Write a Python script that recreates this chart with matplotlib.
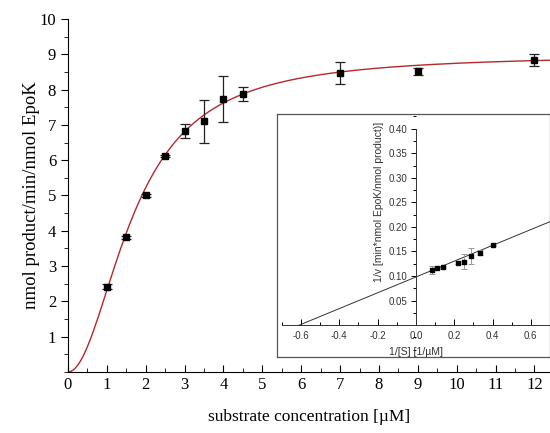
import numpy as np
import matplotlib.pyplot as plt
from matplotlib.ticker import MultipleLocator

# main plot: rate vs substrate concentration
substrate = [1, 1.5, 2, 2.5, 3, 3.5, 4, 4.5, 7, 9, 12]
rate = [2.41, 3.82, 5.01, 6.12, 6.83, 7.10, 7.73, 7.87, 8.47, 8.52, 8.84]
rate_err = [0.07, 0.04, 0.04, 0.04, 0.20, 0.60, 0.65, 0.20, 0.30, 0.10, 0.18]

# Hill fit parameters
vmax = 9.0
k_half = 1.70
hill_n = 2.0

# inset: Lineweaver-Burk
inv_s = [0.083, 0.111, 0.143, 0.222, 0.25, 0.286, 0.333, 0.40]
inv_v = [0.113, 0.117, 0.118, 0.127, 0.129, 0.141, 0.147, 0.163]
inv_v_err = [0.008, 0.002, 0.002, 0.003, 0.015, 0.016, 0.005, 0.001]
lb_intercept = 0.098
lb_slope = 0.161

serif = ['Liberation Serif', 'DejaVu Serif']
sans = ['Liberation Sans', 'DejaVu Sans']

fig = plt.figure(figsize=(5.5, 4.33), dpi=100)
ax = fig.add_axes([0.1236, 0.141, 0.8764, 0.815])

s_fit = np.linspace(0, 12.4, 300)
v_fit = vmax * s_fit**hill_n / (k_half**hill_n + s_fit**hill_n)
ax.plot(s_fit, v_fit, color='#b5282e', lw=1.0, zorder=2)
ax.errorbar(substrate, rate, yerr=rate_err, fmt='s', color='black', ms=4,
            ecolor='#222222', elinewidth=0.9, capsize=3.5, capthick=0.9, zorder=3)

ax.set_xlim(0, 12.4)
ax.set_ylim(0, 10)
ax.spines['top'].set_visible(False)
ax.spines['right'].set_visible(False)
ax.xaxis.set_major_locator(MultipleLocator(1))
ax.xaxis.set_minor_locator(MultipleLocator(0.5))
ax.yaxis.set_major_locator(MultipleLocator(1))
ax.yaxis.set_minor_locator(MultipleLocator(0.5))
ax.tick_params(axis='x', which='both', direction='in')
ax.tick_params(axis='x', which='major', length=5)
ax.tick_params(axis='x', which='minor', length=3)
ax.tick_params(axis='y', which='major', direction='out', length=5)
ax.tick_params(axis='y', which='minor', direction='out', length=3)
ax.set_yticks(range(1, 11))
for lbl in ax.get_xticklabels() + ax.get_yticklabels():
    lbl.set_family(serif)
    lbl.set_fontsize(12)
ax.set_xlabel('substrate concentration [µM]', family=serif, fontsize=12.5, labelpad=12)
ax.set_ylabel('nmol product/min/nmol EpoK', family=serif, fontsize=13.5, labelpad=0)

# inset frame
inset_pos = [0.5036, 0.1755, 0.4964, 0.5612]
frame = fig.add_axes(inset_pos)
frame.set_xticks([])
frame.set_yticks([])
for sp in frame.spines.values():
    sp.set_color('#555555')
    sp.set_linewidth(0.9)

ins = fig.add_axes(inset_pos)
ins.patch.set_alpha(0)
x_line = np.array([-lb_intercept / lb_slope, 0.7])
ins.plot(x_line, lb_intercept + lb_slope * x_line, color='#333333', lw=0.7)
ins.errorbar(inv_s, inv_v, yerr=inv_v_err, fmt='s', color='black', ms=2.2,
             ecolor='#999999', elinewidth=0.7, capsize=2.5, capthick=0.7)
ins.set_xlim(-0.725, 0.7)
ins.set_ylim(-0.065, 0.43)
ins.spines['left'].set_position(('data', 0))
ins.spines['bottom'].set_position(('data', 0))
ins.spines['left'].set_bounds(0, 0.40)
ins.spines['bottom'].set_bounds(-0.7, 0.7)
ins.spines['top'].set_visible(False)
ins.spines['right'].set_visible(False)
for sp in ('left', 'bottom'):
    ins.spines[sp].set_linewidth(0.7)
    ins.spines[sp].set_color('#333333')
ins.set_xticks([-0.6, -0.4, -0.2, 0.0, 0.2, 0.4, 0.6])
ins.set_xticklabels(['-0.6', '-0.4', '-0.2', '0.0', '0.2', '0.4', '0.6'])
ins.xaxis.set_minor_locator(MultipleLocator(0.1))
ins.set_yticks([0.05, 0.10, 0.15, 0.20, 0.25, 0.30, 0.35, 0.40])
ins.set_yticklabels(['0.05', '0.10', '0.15', '0.20', '0.25', '0.30', '0.35', '0.40'])
ins.yaxis.set_minor_locator(MultipleLocator(0.025))
ins.tick_params(axis='x', which='both', direction='in', pad=4)
ins.tick_params(axis='x', which='major', length=4, width=0.7)
ins.tick_params(axis='x', which='minor', length=2.5, width=0.7)
ins.tick_params(axis='y', which='major', direction='out', length=3.5, width=0.7, pad=2.5)
ins.tick_params(axis='y', which='minor', direction='out', length=2, width=0.7)
for lbl in ins.get_xticklabels() + ins.get_yticklabels():
    lbl.set_family(sans)
    lbl.set_fontsize(7)
    lbl.set_color('#333333')
ins.text(0.0, -0.055, '1/[S] [1/µM]', family=sans, fontsize=7.5, color='#333333',
         ha='center', va='center')
ins.text(-0.19, 0.25, '1/v [min*nmol EpoK/nmol product)]', family=sans, fontsize=7.5,
         color='#333333', rotation=90, ha='center', va='center')

fig.savefig('out.png', dpi=100)
